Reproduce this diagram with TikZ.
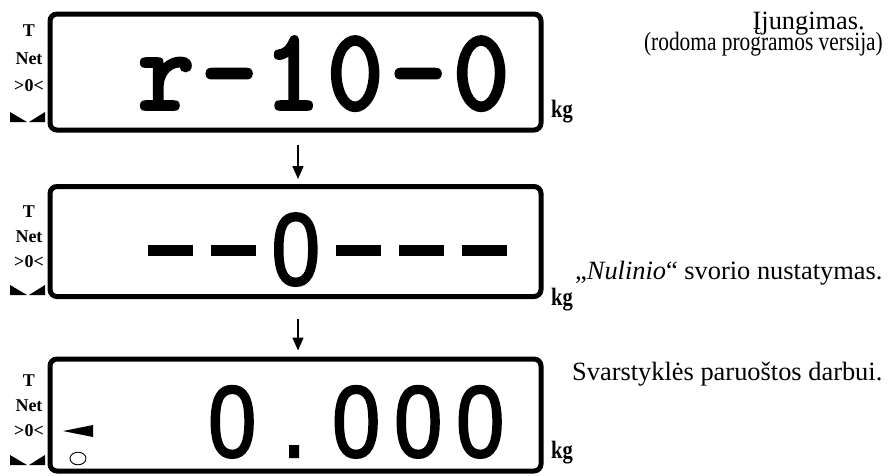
\documentclass[tikz,border=0pt]{standalone}
\usepackage{fontspec}
\setmainfont{Liberation Serif}
\newfontfamily\sansf{Liberation Sans}[FakeBold=2]
\newfontfamily\monob{lmmonolt10-bold.otf}[FakeBold=1.5]
\usetikzlibrary{arrows.meta}
\newcommand\mcell[1]{\makebox[63pt][c]{\scalebox{0.92}[1]{#1}}}
\newcommand\scell[1]{\makebox[62pt][c]{\scalebox{0.85}[1]{#1}}}
\newcommand\zcell[1]{\makebox[62.8pt][c]{\scalebox{0.85}[1]{#1}}}
\newcommand\dcell{\makebox[62.8pt][c]{\rule[29pt]{45pt}{11pt}}}
\tikzset{
  disp/.style={draw, line width=5pt, rounded corners=7pt, minimum width=491pt, inner sep=0pt},
  ind/.style={font=\bfseries\fontsize{18}{25}\selectfont, align=center, anchor=north, inner sep=0pt},
  unit/.style={font=\bfseries\fontsize{25}{25}\selectfont, anchor=base west, inner sep=0pt},
  desc/.style={font=\fontsize{26.4}{28}\selectfont, inner sep=0pt},
  arr/.style={line width=1.5pt, -{Triangle[length=13pt,width=11pt]}},
  bowtiepic/.pic={\fill (0,0)--(0,10)--(17,10)--cycle; \fill (19,10)--(35,10)--(35,0)--cycle;}
}
\begin{document}
\begin{tikzpicture}[x=1pt,y=-1pt]
\useasboundingbox (0,0) rectangle (888,475);
% displays
\node[disp, minimum height=116pt] (b1) at (295.5,72) {};
\node[disp, minimum height=110pt] (b2) at (295.5,241.5) {};
\node[disp, minimum height=112pt] (b3) at (295.5,415) {};
% display contents
\node[anchor=base west, inner sep=0pt, font=\monob\fontsize{119}{119}\selectfont] (t1) at (134.5,110)
  {\mcell{r}\mcell{-}\mcell{1}\mcell{0}\mcell{-}\mcell{0}};
\node[anchor=base west, inner sep=0pt, font=\sansf\fontsize{103}{103}\selectfont] (t2) at (138.6,285)
  {\dcell\dcell\zcell{0}\dcell\dcell\dcell};
\node[anchor=base west, inner sep=0pt, font=\sansf\fontsize{102}{102}\selectfont] (t3) at (201,457)
  {\scell{0}\scell{.}\scell{0}\scell{0}\scell{0}};
% box 3 extra marks
\fill (63,431) -- (93,425) -- (93,437) -- cycle;
\draw[line width=0.9pt] (78,458.5) ellipse [x radius=8pt, y radius=6.3pt];
% indicator labels
\node[ind, font=\bfseries\fontsize{18}{27.5}\selectfont] (i1) at (29,25) {T\\Net\\>0<};
\node[ind] (i2) at (29,206) {T\\Net\\>0<};
\node[ind] (i3) at (29,375) {T\\Net\\>0<};
\pic at (10,112) {bowtiepic};
\pic at (10,285) {bowtiepic};
\pic at (10,455) {bowtiepic};
% units
\node[unit] (k1) at (551,117) {\scalebox{0.82}[1]{kg}};
\node[unit] (k2) at (551,305) {\scalebox{0.82}[1]{kg}};
\node[unit] (k3) at (551,458) {\scalebox{0.82}[1]{kg}};
% arrows
\draw[arr, shorten <=12pt, shorten >=5pt] ([xshift=2.5pt]b1.south) -- ([xshift=2.5pt]b2.north);
\draw[arr, shorten <=20pt, shorten >=6pt] ([xshift=2.5pt]b2.south) -- ([xshift=2.5pt]b3.north);
% descriptions
\node[desc, anchor=base east] (d1a) at (865,29.5) {Įjungimas.};
\node[desc, anchor=base east] (d1b) at (883,50.5) {\scalebox{0.81}[1]{(rodoma programos versija)}};
\node[desc, anchor=base west] (d2) at (575,279) {„\textit{Nulinio}“ svorio nustatymas.};
\node[desc, anchor=base west] (d3) at (572,380) {Svarstyklės paruoštos darbui.};
\end{tikzpicture}
\end{document}
